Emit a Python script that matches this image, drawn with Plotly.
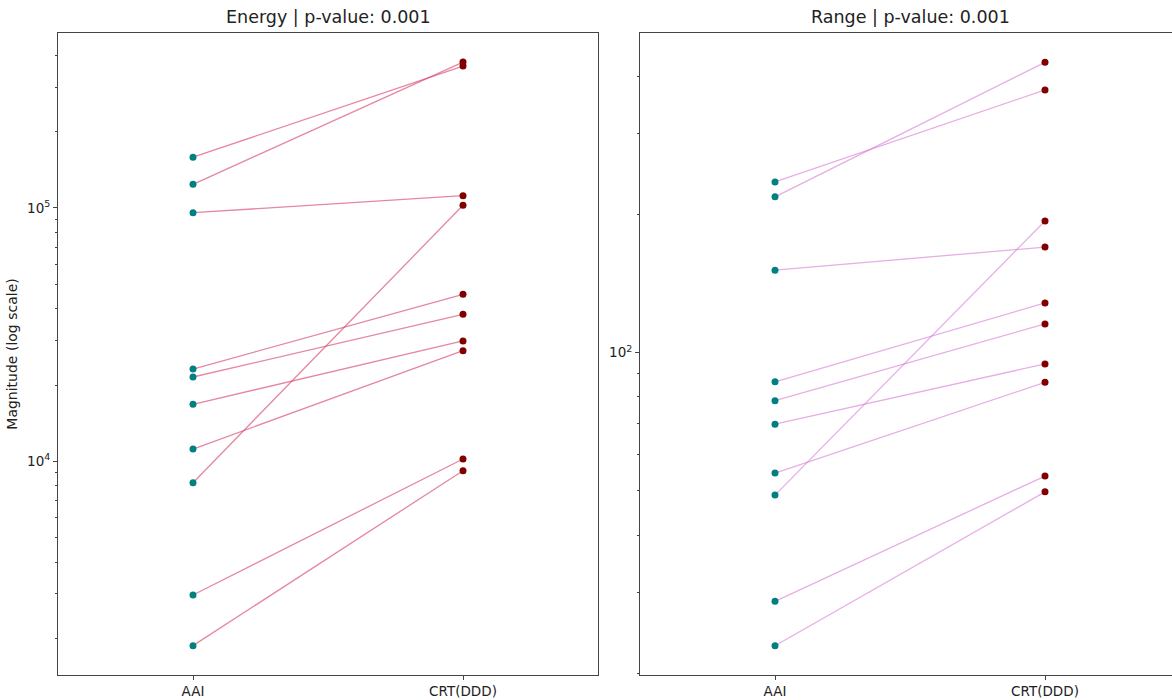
import plotly.graph_objects as go

categories = ["AAI", "CRT(DDD)"]

energy_aai = [158600, 124000, 95800, 23150, 21530, 16800, 11190, 8240, 2970, 1874]
energy_crt = [363000, 376700, 111800, 45640, 38060, 29870, 27350, 102500, 10220, 9190]

range_aai = [235.2, 218.3, 151.1, 86.3, 78.5, 69.8, 54.6, 48.9, 28.7, 22.97]
range_crt = [373.2, 428.7, 169.7, 128.2, 115.4, 94.4, 86.1, 193.4, 53.8, 49.7]

titles = ["Energy | p-value: 0.001", "Range | p-value: 0.001"]

W, H = 1172, 700
ml, mr, mt, mb = 58, 0, 33, 25
pw = W - ml - mr

fig = go.Figure()

panels = [
    (energy_aai, energy_crt, "rgba(215,70,110,0.65)", "x", "y"),
    (range_aai, range_crt, "rgba(214,120,210,0.6)", "x2", "y2"),
]

for aai, crt, lc, xa, ya in panels:
    for a, c in zip(aai, crt):
        fig.add_trace(go.Scatter(x=[0, 1], y=[a, c], mode="lines",
                                 line=dict(color=lc, width=1.3),
                                 xaxis=xa, yaxis=ya, showlegend=False, hoverinfo="skip"))
    fig.add_trace(go.Scatter(x=[0] * len(aai), y=aai, mode="markers",
                             marker=dict(color="#008080", size=7),
                             xaxis=xa, yaxis=ya, showlegend=False))
    fig.add_trace(go.Scatter(x=[1] * len(crt), y=crt, mode="markers",
                             marker=dict(color="#800000", size=7),
                             xaxis=xa, yaxis=ya, showlegend=False))

d1 = [0, 540 / pw]
d2 = [(640 - ml) / pw, 1]

axis_common = dict(showgrid=False, zeroline=False, linecolor="#444", linewidth=1,
                   ticks="outside", tickcolor="#444", ticklen=4,
                   tickfont=dict(family="DejaVu Sans", size=13.5, color="#222"))

fig.update_layout(
    width=W, height=H,
    margin=dict(l=ml, r=mr, t=mt, b=mb),
    plot_bgcolor="white", paper_bgcolor="white",
    xaxis=dict(domain=d1, range=[-0.5, 1.5], tickvals=[0, 1], ticktext=categories,
               showline=True, mirror=True, **axis_common),
    xaxis2=dict(domain=d2, range=[-0.5, 1.5 - 8 / 270], tickvals=[0, 1], ticktext=categories,
                showline=True, mirror=True, anchor="y2", **axis_common),
    yaxis=dict(type="log", range=[3.157, 5.6906], tickvals=[1e4, 1e5],
               ticktext=["10<sup>4</sup>", "10<sup>5</sup>"],
               minor=dict(ticks="outside", ticklen=2, tickcolor="#444",
                          tickvals=[2e3, 3e3, 4e3, 5e3, 6e3, 7e3, 8e3, 9e3,
                                    2e4, 3e4, 4e4, 5e4, 6e4, 7e4, 8e4, 9e4,
                                    2e5, 3e5, 4e5]),
               showline=True, mirror=True,
               title=dict(text="Magnitude (log scale)", standoff=6,
                          font=dict(family="DejaVu Sans", size=14, color="#222")),
               **axis_common),
    yaxis2=dict(type="log", range=[1.2974, 2.696], tickvals=[100],
                ticktext=["10<sup>2</sup>"], anchor="x2",
                minor=dict(ticks="outside", ticklen=2, tickcolor="#444",
                           tickvals=[20, 30, 40, 50, 60, 70, 80, 90, 200, 300, 400]),
                showline=True, mirror=False, **axis_common),
)

centers = [(d1[0] + d1[1]) / 2, d2[0] + 270 / pw]
for t, cx in zip(titles, centers):
    fig.add_annotation(text=t, x=cx, xref="paper", xanchor="center",
                       y=1, yref="paper", yanchor="bottom",
                       yshift=4, showarrow=False,
                       font=dict(family="DejaVu Sans", size=17.5, color="#222"))

fig.write_html("out.html", config={"displayModeBar": False},
               post_script="document.body.style.margin='0';document.body.style.overflow='hidden';")
